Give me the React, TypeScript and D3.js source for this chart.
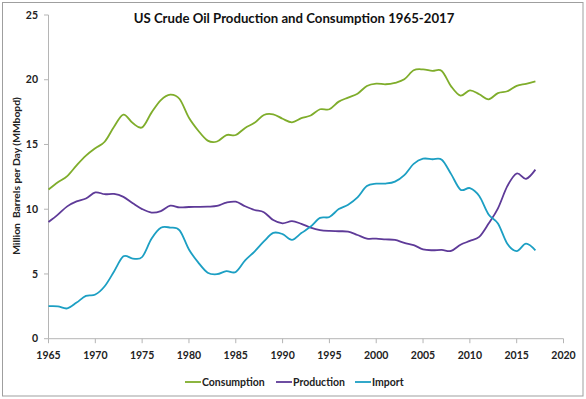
import { useEffect } from 'react';
import * as d3 from 'd3';

const years = d3.range(1965, 2018);

const consumption = [
  11.52, 12.08, 12.56, 13.39, 14.14, 14.71, 15.21, 16.37, 17.31, 16.65,
  16.32, 17.46, 18.43, 18.85, 18.51, 17.06, 16.06, 15.30, 15.23, 15.73,
  15.73, 16.28, 16.67, 17.28, 17.33, 16.99, 16.71, 17.03, 17.24, 17.72,
  17.72, 18.31, 18.62, 18.92, 19.52, 19.70, 19.65, 19.76, 20.03, 20.73,
  20.80, 20.69, 20.68, 19.49, 18.77, 19.18, 18.88, 18.49, 18.97, 19.11,
  19.53, 19.69, 19.88,
];

const production = [
  9.01, 9.58, 10.22, 10.60, 10.83, 11.30, 11.16, 11.18, 10.95, 10.46,
  10.01, 9.74, 9.86, 10.27, 10.14, 10.17, 10.18, 10.20, 10.25, 10.51,
  10.58, 10.23, 9.94, 9.77, 9.16, 8.91, 9.08, 8.87, 8.58, 8.39,
  8.32, 8.30, 8.27, 8.01, 7.73, 7.73, 7.67, 7.63, 7.40, 7.23,
  6.90, 6.83, 6.86, 6.78, 7.26, 7.55, 7.86, 8.89, 10.07, 11.78,
  12.76, 12.35, 13.06,
];

const imports = [
  2.51, 2.50, 2.34, 2.79, 3.31, 3.41, 4.05, 5.19, 6.36, 6.19,
  6.31, 7.72, 8.57, 8.58, 8.37, 6.89, 5.88, 5.10, 4.98, 5.22,
  5.15, 6.05, 6.73, 7.51, 8.17, 8.08, 7.63, 8.16, 8.66, 9.33,
  9.40, 10.01, 10.35, 10.91, 11.79, 11.97, 11.98, 12.13, 12.63, 13.50,
  13.90, 13.86, 13.82, 12.71, 11.51, 11.63, 11.02, 9.60, 8.90, 7.33,
  6.77, 7.34, 6.82,
];

const xTicks = [1965, 1970, 1975, 1980, 1985, 1990, 1995, 2000, 2005, 2010, 2015, 2020];
const yTicks = [0, 5, 10, 15, 20, 25];

const series = [
  { name: 'Consumption', values: consumption, color: '#7FAD2B' },
  { name: 'Production', values: production, color: '#5E3A98' },
  { name: 'Import', values: imports, color: '#1C9FC3' },
];

const W = 586;
const H = 399;
const FONT = 'Lato, "Open Sans", sans-serif';

export default function App() {
  useEffect(() => {
    document.body.style.margin = '0';
  }, []);

  const x = d3.scaleLinear().domain([1965, 2020]).range([48.5, 563.5]);
  const y = d3.scaleLinear().domain([0, 25]).range([338.7, 15]);

  const line = (vals: number[]) =>
    d3
      .line<number>()
      .x((_, i) => x(years[i]))
      .y((d) => y(d))
      .curve(d3.curveCardinal.tension(0))(vals) || '';

  // legend swatch / text positions
  const legendItems = [
    { lx: 185, tx: 202 },
    { lx: 276, tx: 293 },
    { lx: 355, tx: 372 },
  ];

  return (
    <svg width={W} height={H} style={{ display: 'block' }}>
      <rect x={0} y={0} width={W} height={H} fill="#fff" />
      <rect x={2.5} y={2.5} width={580.5} height={393.5} fill="none" stroke="#9f9f9f" strokeWidth={1} />

      <text
        x={294}
        y={22.5}
        textAnchor="middle"
        fontFamily={FONT}
        fontWeight={700}
        fontSize={13.2}
        fill="#111"
      >
        US Crude Oil Production and Consumption 1965-2017
      </text>

      {/* axes */}
      <line x1={48.5} x2={48.5} y1={y(25)} y2={y(0)} stroke="#b5b5b5" />
      <line x1={48.5} x2={x(2020)} y1={y(0)} y2={y(0)} stroke="#b5b5b5" />
      {yTicks.map((t) => (
        <g key={t}>
          <line x1={44} x2={48.5} y1={y(t)} y2={y(t)} stroke="#b5b5b5" />
          <text
            x={38}
            y={y(t)}
            dy="0.35em"
            textAnchor="end"
            fontFamily={FONT}
            fontWeight={700}
            fontSize={10.5}
            fill="#222"
          >
            {t}
          </text>
        </g>
      ))}
      {xTicks.map((t) => (
        <g key={t}>
          <line x1={x(t)} x2={x(t)} y1={y(0)} y2={y(0) + 4.5} stroke="#b5b5b5" />
          <text
            x={x(t)}
            y={359}
            textAnchor="middle"
            fontFamily={FONT}
            fontWeight={700}
            fontSize={10.5}
            fill="#222"
          >
            {t}
          </text>
        </g>
      ))}

      <text
        transform="translate(20,176) rotate(-90)"
        textAnchor="middle"
        fontFamily={FONT}
        fontWeight={700}
        fontSize={10.3}
        fill="#222"
        style={{ whiteSpace: 'pre' }}
      >
        Million  Barrels per Day (MMbopd)
      </text>

      {series.map((s) => (
        <path key={s.name} d={line(s.values)} fill="none" stroke={s.color} strokeWidth={1.8} />
      ))}

      {series.map((s, i) => (
        <g key={s.name}>
          <line
            x1={legendItems[i].lx}
            x2={legendItems[i].lx + 16}
            y1={382}
            y2={382}
            stroke={s.color}
            strokeWidth={1.8}
          />
          <text
            x={legendItems[i].tx}
            y={385.5}
            fontFamily={FONT}
            fontWeight={700}
            fontSize={10.5}
            fill="#222"
          >
            {s.name}
          </text>
        </g>
      ))}
    </svg>
  );
}
